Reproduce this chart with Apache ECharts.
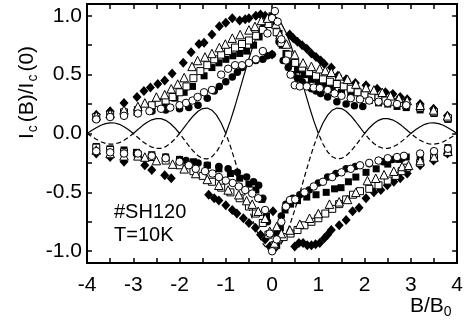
<!DOCTYPE html>
<html>
<head>
<meta charset="utf-8">
<script src="https://cdn.jsdelivr.net/npm/echarts@6/dist/echarts.min.js"></script>
<style>
  html, body { margin: 0; padding: 0; background: #fff; }
  #main { width: 466px; height: 326px; }
</style>
</head>
<body>
<div id="main"></div>
<script>
// measured points, [B/B0, Ic(B)/Ic(0)]
const diamondUp = [[-3.8,0.16],[-3.5,0.19],[-3.2,0.26],[-2.92,0.31],[-2.77,0.36],[-2.63,0.39],[-2.47,0.42],[-2.32,0.45],[-2.16,0.51],[-1.92,0.6],[-1.75,0.69],[-1.58,0.76],[-1.47,0.77],[-1.3,0.84],[-1.14,0.91],[-1.0,0.94],[-0.86,0.98],[-0.7,0.96],[-0.58,0.97],[-0.5,0.98],[-0.35,1.0],[-0.25,1.01],[-0.15,1.0],[-0.05,0.98],[0.0,0.67],
  [0.38,0.84],[0.46,0.81],[0.55,0.78],[0.65,0.75],[0.75,0.72],[0.85,0.68],[0.95,0.65],[1.05,0.62],[1.13,0.59],[1.28,0.56],[1.42,0.49],[1.6,0.46],[1.8,0.43],[2.03,0.41],[2.27,0.38],[2.45,0.35],[2.61,0.335],[2.77,0.31],[2.92,0.29],[3.2,0.25],[3.49,0.21],[3.79,0.15]];
const diamondDown = [[-3.8,-0.17],[-3.5,-0.2],[-3.2,-0.24],[-2.75,-0.27],[-2.6,-0.31],[-2.32,-0.355],[-2.18,-0.38],[-1.37,-0.52],[-1.25,-0.55],[-1.15,-0.57],[-1.0,-0.61],[-0.86,-0.65],[-0.76,-0.68],[-0.62,-0.72],[-0.5,-0.76],[-0.36,-0.8],[-0.25,-0.86],[-0.15,-0.9],[-0.05,-0.96],[0.05,-0.98],[0.02,-0.66],
  [0.49,-0.96],[0.58,-0.93],[0.67,-0.93],[0.76,-0.95],[0.85,-0.95],[0.94,-0.94],[1.03,-0.93],[1.13,-0.89],[1.2,-0.86],[1.28,-0.82],[1.45,-0.78],[1.6,-0.735],[1.74,-0.66],[1.88,-0.63],[2.03,-0.55],[2.2,-0.5],[2.35,-0.48],[2.49,-0.44],[2.63,-0.41],[2.77,-0.38],[2.92,-0.34],[3.2,-0.27],[3.49,-0.23],[3.79,-0.17]];

const triangleUp = [[-3.8,0.15],[-3.5,0.17],[-3.2,0.2],[-2.9,0.23],[-2.75,0.26],[-2.5,0.31],[-2.32,0.33],[-2.18,0.38],[-2.04,0.42],[-1.9,0.475],[-1.73,0.57],[-1.61,0.62],[-1.45,0.65],[-1.3,0.68],[-1.14,0.73],[-1.01,0.76],[-0.86,0.81],[-0.69,0.84],[-0.5,0.88],[-0.37,0.91],[-0.23,0.96],[-0.1,0.98],
  [0.08,0.93],[0.17,0.84],[0.31,0.76],[0.49,0.67],[0.67,0.6],[0.85,0.57],[1.03,0.55],[1.15,0.535],[1.28,0.52],[1.45,0.49],[1.63,0.46],[1.81,0.42],[2.03,0.39],[2.2,0.37],[2.38,0.35],[2.56,0.32],[2.74,0.3],[2.92,0.28],[3.2,0.24],[3.49,0.2],[3.79,0.15]];
const triangleDown = [[-3.8,-0.14],[-3.5,-0.17],[-3.2,-0.19],[-2.9,-0.19],[-2.75,-0.2],[-2.5,-0.23],[-2.15,-0.26],[-1.9,-0.3],[-1.65,-0.34],[-1.4,-0.39],[-1.15,-0.44],[-0.95,-0.48],[-0.72,-0.52],[-0.55,-0.57],[-0.43,-0.6],[-0.3,-0.66],[-0.15,-0.72],[-0.05,-0.83],[0.05,-0.93],
  [0.1,-0.79],[0.2,-0.85],[0.385,-0.82],[0.6,-0.77],[0.81,-0.72],[1.0,-0.68],[1.24,-0.6],[1.45,-0.58],[1.63,-0.56],[1.81,-0.5],[2.06,-0.4],[2.24,-0.38],[2.42,-0.35],[2.63,-0.32],[2.81,-0.28],[2.95,-0.27],[3.2,-0.23],[3.5,-0.2],[3.8,-0.15]];

const openSquareUp = [[-3.8,0.14],[-3.5,0.16],[-3.2,0.18],[-2.9,0.2],[-2.6,0.24],[-2.45,0.26],[-2.3,0.28],[-2.15,0.31],[-2.0,0.35],[-1.85,0.4],[-1.7,0.47],[-1.55,0.53],[-1.4,0.58],[-1.25,0.63],[-1.1,0.67],[-0.95,0.7],[-0.8,0.73],[-0.65,0.76],[-0.5,0.79],[-0.35,0.83],[-0.2,0.88],[-0.08,0.93],
  [0.1,0.86],[0.2,0.77],[0.35,0.67],[0.5,0.6],[0.65,0.56],[0.8,0.52],[0.95,0.49],[1.1,0.46],[1.25,0.44],[1.4,0.42],[1.55,0.4],[1.7,0.38],[1.85,0.35],[2.0,0.33],[2.15,0.31],[2.3,0.3],[2.45,0.28],[2.6,0.27],[2.75,0.26],[2.9,0.24],[3.2,0.22],[3.5,0.18],[3.8,0.13]];
const openSquareDown = [[-3.8,-0.12],[-3.5,-0.14],[-3.2,-0.16],[-2.9,-0.18],[-2.6,-0.2],[-2.3,-0.23],[-2.0,-0.27],[-1.7,-0.32],[-1.5,-0.36],[-1.3,-0.41],[-1.1,-0.46],[-0.9,-0.5],[-0.7,-0.55],[-0.5,-0.62],[-0.35,-0.68],[-0.2,-0.76],[-0.08,-0.86],[0.05,-0.95],
  [0.12,-0.9],[0.25,-0.88],[0.4,-0.85],[0.55,-0.82],[0.7,-0.78],[0.85,-0.75],[1.0,-0.72],[1.15,-0.68],[1.3,-0.64],[1.45,-0.6],[1.6,-0.56],[1.75,-0.52],[1.9,-0.49],[2.1,-0.47],[2.3,-0.44],[2.5,-0.4],[2.67,-0.36],[2.8,-0.32],[2.92,-0.29],[3.2,-0.25],[3.5,-0.21],[3.8,-0.16]];

const squareUp = [[-3.8,0.13],[-3.5,0.15],[-3.2,0.16],[-2.92,0.18],[-2.6,0.2],[-2.32,0.24],[-2.1,0.3],[-1.9,0.35],[-1.72,0.4],[-1.47,0.49],[-1.3,0.56],[-1.15,0.6],[-1.0,0.63],[-0.85,0.66],[-0.7,0.68],[-0.55,0.7],[-0.4,0.75],[-0.28,0.82],[-0.18,0.9],[-0.1,0.97],[0.0,1.0],
  [0.08,0.95],[0.15,0.85],[0.22,0.75],[0.3,0.68],[0.4,0.6],[0.55,0.54],[0.7,0.5],[0.85,0.46],[1.0,0.43],[1.15,0.4],[1.3,0.38],[1.5,0.35],[1.7,0.32],[1.9,0.3],[2.1,0.28],[2.3,0.26],[2.5,0.25],[2.7,0.23],[2.9,0.22],[3.2,0.2],[3.5,0.17],[3.8,0.12]];
const squareDown = [[-3.8,-0.11],[-3.5,-0.13],[-3.2,-0.14],[-2.93,-0.16],[-2.6,-0.18],[-2.3,-0.2],[-2.0,-0.22],[-1.7,-0.24],[-1.4,-0.27],[-1.15,-0.3],[-0.9,-0.34],[-0.7,-0.38],[-0.5,-0.43],[-0.35,-0.48],[-0.22,-0.56],[-0.12,-0.7],[-0.05,-0.85],[0.02,-0.97],
  [0.1,-0.95],[0.18,-0.8],[0.28,-0.65],[0.4,-0.6],[0.55,-0.57],[0.75,-0.54],[0.95,-0.52],[1.17,-0.5],[1.35,-0.47],[1.49,-0.46],[1.65,-0.41],[1.81,-0.37],[2.03,-0.33],[2.25,-0.3],[2.5,-0.26],[2.74,-0.22],[2.9,-0.2],[3.2,-0.19],[3.5,-0.16],[3.8,-0.12]];

const openCircleUp = [[-3.8,0.12],[-3.5,0.14],[-3.2,0.15],[-2.9,0.17],[-2.65,0.19],[-2.4,0.21],[-2.2,0.22],[-2.0,0.24],[-1.86,0.26],[-1.72,0.28],[-1.61,0.31],[-1.47,0.35],[-1.3,0.37],[-1.1,0.5],[-0.95,0.55],[-0.8,0.58],[-0.65,0.58],[-0.5,0.6],[-0.35,0.63],[-0.2,0.7],[-0.1,0.85],[0.0,0.98],[0.06,1.04],
  [0.12,0.95],[0.2,0.8],[0.3,0.62],[0.4,0.5],[0.49,0.41],[0.6,0.4],[0.75,0.4],[0.9,0.39],[1.03,0.385],[1.2,0.37],[1.35,0.34],[1.5,0.32],[1.7,0.3],[1.9,0.29],[2.1,0.28],[2.3,0.27],[2.5,0.26],[2.7,0.25],[2.9,0.24]];
const openCircleDown = [[-3.8,-0.15],[-3.5,-0.16],[-3.2,-0.17],[-2.9,-0.17],[-2.6,-0.19],[-2.3,-0.21],[-2.0,-0.24],[-1.8,-0.27],[-1.65,-0.3],[-1.45,-0.32],[-1.29,-0.34],[-1.15,-0.37],[-1.0,-0.4],[-0.85,-0.42],[-0.72,-0.45],[-0.58,-0.48],[-0.43,-0.51],[-0.3,-0.55],[-0.15,-0.65],[-0.05,-0.85],[0.0,-1.0],
  [0.1,-0.9],[0.2,-0.75],[0.3,-0.62],[0.385,-0.565],[0.5,-0.56],[0.7,-0.5],[0.9,-0.45],[1.1,-0.41],[1.3,-0.37],[1.5,-0.33],[1.7,-0.3],[1.9,-0.27],[2.1,-0.25],[2.3,-0.23],[2.5,-0.21],[2.7,-0.2],[2.85,-0.19],[3.2,-0.17],[3.5,-0.15],[3.8,-0.13]];

const circleUp = [[-2.9,0.18],[-2.6,0.19],[-2.3,0.2],[-2.0,0.21],[-1.8,0.22],[-1.6,0.24],[-1.4,0.3],[-1.25,0.36],[-1.14,0.4],[-1.0,0.44],[-0.86,0.48],[-0.75,0.52],[-0.65,0.56],[-0.5,0.6],[-0.35,0.62],[-0.2,0.63],[-0.1,0.66],[0.0,0.67],
  [0.1,0.95],[0.15,0.78],[0.24,0.62],[0.35,0.56],[0.45,0.5],[0.55,0.47],[0.65,0.44],[0.75,0.41],[0.85,0.38],[0.95,0.36],[1.05,0.34],[1.2,0.31],[1.4,0.27],[1.6,0.25],[1.78,0.236],[1.96,0.23]];
const circleDown = [[-2.93,-0.17],[-2.6,-0.19],[-2.3,-0.2],[-2.0,-0.22],[-1.86,-0.23],[-1.6,-0.25],[-1.4,-0.27],[-1.15,-0.28],[-0.95,-0.3],[-0.75,-0.33],[-0.55,-0.37],[-0.4,-0.41],[-0.29,-0.44],[-0.2,-0.55],[-0.1,-0.75],[0.0,-0.95],
  [0.1,-0.85],[0.2,-0.7],[0.3,-0.6],[0.45,-0.55],[0.6,-0.52],[0.8,-0.48],[1.0,-0.42],[1.2,-0.37],[1.38,-0.34],[1.6,-0.3],[1.8,-0.28],[2.1,-0.256],[2.4,-0.24],[2.6,-0.22],[2.81,-0.21]];

// Fraunhofer curves
const curveX = [-4.0,-3.9,-3.8,-3.7,-3.6,-3.5,-3.4,-3.3,-3.2,-3.1,-3.0,-2.9,-2.8,-2.7,-2.6,-2.5,-2.4,-2.3,-2.2,-2.1,-2.0,-1.9,-1.8,-1.7,-1.6,-1.5,-1.4,-1.3,-1.2,-1.1,-1.0,-0.9,-0.8,-0.7,-0.6,-0.5,-0.4,-0.3,-0.2,-0.1,0.0,
  0.1,0.2,0.3,0.4,0.5,0.6,0.7,0.8,0.9,1.0,1.1,1.2,1.3,1.4,1.5,1.6,1.7,1.8,1.9,2.0,2.1,2.2,2.3,2.4,2.5,2.6,2.7,2.8,2.9,3.0,3.1,3.2,3.3,3.4,3.5,3.6,3.7,3.8,3.9,4.0];
const solidY = [0,0.025,0.049,0.07,0.084,0.091,0.089,0.078,0.058,0.032,0,0.034,0.067,0.095,0.116,0.127,0.126,0.112,0.085,0.047,0,0.052,0.104,0.151,0.189,0.212,0.216,0.198,0.156,0.089,0,0.109,0.234,0.368,0.505,0.637,0.757,0.858,0.935,0.984,1,
  0.984,0.935,0.858,0.757,0.637,0.505,0.368,0.234,0.109,0,0.089,0.156,0.198,0.216,0.212,0.189,0.151,0.104,0.052,0,0.047,0.085,0.112,0.126,0.127,0.116,0.095,0.067,0.034,0,0.032,0.058,0.078,0.089,0.091,0.084,0.07,0.049,0.025,0];
const dashedY = [0,-0.025,-0.049,-0.07,-0.084,-0.091,-0.089,-0.078,-0.058,-0.032,0,-0.034,-0.067,-0.095,-0.116,-0.127,-0.126,-0.112,-0.085,-0.047,0,-0.052,-0.104,-0.151,-0.189,-0.212,-0.216,-0.198,-0.156,-0.089,0,-0.109,-0.234,-0.368,-0.505,-0.637,-0.757,-0.858,-0.935,-0.984,-1,
  -0.984,-0.935,-0.858,-0.757,-0.637,-0.505,-0.368,-0.234,-0.109,0,-0.089,-0.156,-0.198,-0.216,-0.212,-0.189,-0.151,-0.104,-0.052,0,-0.047,-0.085,-0.112,-0.126,-0.127,-0.116,-0.095,-0.067,-0.034,0,-0.032,-0.058,-0.078,-0.089,-0.091,-0.084,-0.07,-0.049,-0.025,0];

const yTicks = [-1, -0.75, -0.5, -0.25, 0, 0.25, 0.5, 0.75, 1];
const yLabels = [-1, -0.5, 0, 0.5, 1];

const font = 'Liberation Sans';

const chart = echarts.init(document.getElementById('main'));

function xAx(pos) {
  return {
    type: 'value', min: -4, max: 4, interval: 0.5, position: pos,
    axisLine: { onZero: false, lineStyle: { color: '#000', width: 2 } },
    axisTick: { inside: true, length: 5, lineStyle: { color: '#000', width: 1.5 } },
    axisLabel: {
      show: pos === 'bottom', color: '#000', fontSize: 21, fontFamily: font, margin: 12,
      formatter: function (v) { return Number.isInteger(v) ? String(v) : ''; }
    },
    splitLine: { show: false }
  };
}
function yAx(pos) {
  var ax = {
    type: 'value', min: -1.1, max: 1.1, position: pos,
    axisLine: { onZero: false, lineStyle: { color: '#000', width: 2 } },
    axisTick: { inside: true, length: 5, customValues: yTicks, lineStyle: { color: '#000', width: 1.5 } },
    axisLabel: {
      show: pos === 'left', color: '#000', fontSize: 21, fontFamily: font, margin: 5,
      customValues: yLabels,
      formatter: function (v) { return v.toFixed(1); }
    },
    splitLine: { show: false }
  };
  if (pos === 'left') {
    ax.name = '{a|I}{b|c}{a|(B)/I}{b|c}{a|(0)}';
    ax.nameLocation = 'middle';
    ax.nameRotate = 90;
    ax.nameGap = 47;
    ax.nameMoveOverlap = false;
    ax.nameTextStyle = {
      padding: [0, 0, 0, 82],
      rich: {
        a: { fontSize: 21, fontFamily: font, color: '#000', lineHeight: 26 },
        b: { fontSize: 14, fontFamily: font, color: '#000', lineHeight: 8, verticalAlign: 'bottom', padding: [0, 3, 0, 1] }
      }
    };
  }
  return ax;
}

function pts(name, symbol, size, filled, data) {
  return {
    name: name, type: 'scatter', symbol: symbol, symbolSize: size, data: data, z: 3,
    itemStyle: filled ? { color: '#000', opacity: 1 } : { color: '#fff', borderColor: '#000', borderWidth: 1, opacity: 1 }
  };
}

var option = {
  animation: false,
  backgroundColor: '#fff',
  grid: { left: 87, right: 5, top: 4, bottom: 63 },
  xAxis: [xAx('bottom'), xAx('top')],
  yAxis: [yAx('left'), yAx('right')],
  graphic: [
    {
      type: 'text', x: 410, y: 306,
      style: {
        text: '{a|B/B}{b|0}', align: 'left', verticalAlign: 'middle',
        rich: {
          a: { fontSize: 21, fontFamily: font, fill: '#000', lineHeight: 26 },
          b: { fontSize: 14, fontFamily: font, fill: '#000', lineHeight: 8, verticalAlign: 'bottom' }
        }
      }
    },
    {
      type: 'text', x: 114, y: 201,
      style: { text: '#SH120\nT=10K', font: '20px "Liberation Sans"', fill: '#000', lineHeight: 23 }
    }
  ],
  series: [
    {
      type: 'line', data: curveX.map(function (x, i) { return [x, solidY[i]]; }),
      showSymbol: false, z: 1, lineStyle: { color: '#000', width: 1.2 }
    },
    {
      type: 'line', data: curveX.map(function (x, i) { return [x, dashedY[i]]; }),
      showSymbol: false, z: 1, lineStyle: { color: '#000', width: 1.2, type: [5, 3] }
    },
    pts('diamond', 'diamond', [9, 10], true, diamondUp.concat(diamondDown)),
    pts('circle', 'circle', 7.5, true, circleUp.concat(circleDown)),
    pts('square', 'rect', 7, true, squareUp.concat(squareDown)),
    pts('openSquare', 'rect', 7, false, openSquareUp.concat(openSquareDown)),
    pts('triangle', 'triangle', 8.5, false, triangleUp.concat(triangleDown)),
    pts('openCircle', 'circle', 7.5, false, openCircleUp.concat(openCircleDown))
  ]
};

chart.setOption(option);
</script>
</body>
</html>
